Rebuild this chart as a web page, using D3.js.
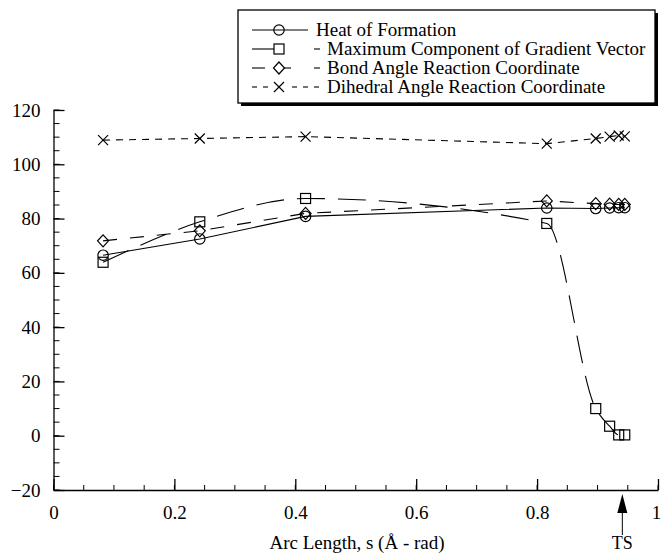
<!DOCTYPE html>
<html><head><meta charset="utf-8">
<script src="https://cdn.jsdelivr.net/npm/d3@7"></script>
<style>body{margin:0;background:#fff}svg{display:block}</style>
</head><body><svg id="c" width="661" height="553" font-family="Liberation Serif"></svg>
<script>
const arcLength = [0.082, 0.242, 0.417, 0.816, 0.897, 0.920, 0.935, 0.945];
const heatOfFormation = [66.5, 72.5, 80.8, 83.9, 83.7, 83.9, 84.0, 84.0];
const maxGradient = [63.9, 78.8, 87.4, 78.2, 10.0, 3.5, 0.3, 0.3];
const bondAngle = [71.8, 75.5, 81.9, 86.5, 85.5, 85.3, 85.2, 85.2];
const dihedralAngle = [108.9, 109.5, 110.2, 107.6, 109.5, 110.2, 110.6, 110.3];
const seriesNames = ["Heat of Formation", "Maximum Component of Gradient Vector", "Bond Angle Reaction Coordinate", "Dihedral Angle Reaction Coordinate"];
const yTicks = [-20, 0, 20, 40, 60, 80, 100, 120];
const xTicks = [0, 0.2, 0.4, 0.6, 0.8, 1];
const tsArc = 0.941;

const FONT = "Liberation Serif";
const svg = d3.select("#c");
const x = d3.scaleLinear().domain([0, 1]).range([53.5, 658]);
const y = d3.scaleLinear().domain([-20, 120]).range([490, 110]);

// minor ticks
const gMinor = svg.append("g");
d3.range(-20, 120.01, 5).forEach(v => {
  gMinor.append("line").attr("x1", x(0)).attr("x2", x(0) + 6).attr("y1", y(v)).attr("y2", y(v)).attr("stroke", "#000").attr("stroke-width", 1);
});
d3.range(0, 1.001, 0.05).forEach(v => {
  gMinor.append("line").attr("x1", x(v)).attr("x2", x(v)).attr("y1", y(-20)).attr("y2", y(-20) - 5).attr("stroke", "#000").attr("stroke-width", 1);
});

const yAxis = svg.append("g").attr("transform", `translate(${x(0)},0)`)
  .call(d3.axisLeft(y).tickValues(yTicks).tickFormat(d3.format("d")).tickSizeInner(-11).tickSizeOuter(0).tickPadding(13));
const xAxis = svg.append("g").attr("transform", `translate(0,${y(-20)})`)
  .call(d3.axisBottom(x).tickValues(xTicks).tickFormat(d => d === 0 || d === 1 ? String(d) : d.toFixed(1)).tickSizeInner(-11).tickSizeOuter(0).tickPadding(16));
[yAxis, xAxis].forEach(g => {
  g.attr("font-family", FONT).attr("font-size", 19);
  g.selectAll("path,line").attr("stroke", "#000").attr("stroke-width", 1.3);
  g.selectAll("text").attr("font-family", FONT).attr("font-size", 19).attr("fill", "#000");
});
xAxis.selectAll(".tick text").filter(d => d === 1).attr("dx", -2);

svg.append("text").attr("x", 357).attr("y", 549).attr("text-anchor", "middle").attr("font-family", FONT).attr("font-size", 19).text("Arc Length, s (Å - rad)");

// TS arrow
const tx = x(tsArc);
svg.append("path").attr("d", `M${tx},494 L${tx - 5},513 L${tx + 5},513 Z`).attr("fill", "#000");
svg.append("line").attr("x1", tx).attr("x2", tx).attr("y1", 510).attr("y2", 535).attr("stroke", "#000").attr("stroke-width", 1);
svg.append("text").attr("x", tx).attr("y", 549).attr("text-anchor", "middle").attr("font-family", FONT).attr("font-size", 18).text("TS");

// series
function pts(vals) { return arcLength.map((s, i) => [x(s), y(vals[i])]); }
const lineLin = d3.line();
const lineSmooth = d3.line().curve(d3.curveMonotoneX);
const series = [
  {vals: heatOfFormation, dash: null, marker: "circle", gen: lineLin},
  {vals: maxGradient, dash: "28,13", marker: "square", gen: lineSmooth},
  {vals: bondAngle, dash: "14,13", marker: "diamond", gen: lineLin},
  {vals: dihedralAngle, dash: "7,6", marker: "cross", gen: lineLin}
];
function drawMarker(g, type, cx, cy) {
  const st = m => m.attr("fill", "none").attr("stroke", "#000").attr("stroke-width", 1.2);
  if (type === "circle") st(g.append("circle").attr("cx", cx).attr("cy", cy).attr("r", 5.2));
  else if (type === "square") st(g.append("rect").attr("x", cx - 5).attr("y", cy - 5).attr("width", 10).attr("height", 10));
  else if (type === "diamond") st(g.append("path").attr("d", `M${cx},${cy - 6}L${cx + 5.5},${cy}L${cx},${cy + 6}L${cx - 5.5},${cy}Z`));
  else st(g.append("path").attr("d", `M${cx - 5},${cy - 5}L${cx + 5},${cy + 5}M${cx + 5},${cy - 5}L${cx - 5},${cy + 5}`));
}
series.forEach(s => {
  const p = pts(s.vals);
  const path = svg.append("path").attr("d", s.gen(p)).attr("fill", "none").attr("stroke", "#000").attr("stroke-width", 1.1);
  if (s.dash) path.attr("stroke-dasharray", s.dash);
  const g = svg.append("g");
  p.forEach(([cx, cy]) => drawMarker(g, s.marker, cx, cy));
});

// legend
const lg = svg.append("g");
lg.append("rect").attr("x", 241).attr("y", 13).attr("width", 417).attr("height", 93).attr("fill", "#000");
lg.append("rect").attr("x", 238).attr("y", 10).attr("width", 417).attr("height", 93).attr("fill", "#fff").attr("stroke", "#000").attr("stroke-width", 1.3);
const rowY = [30, 49, 68, 87];
const seg = (x1, x2, ly) => lg.append("line").attr("x1", x1).attr("x2", x2).attr("y1", ly).attr("y2", ly).attr("stroke", "#000").attr("stroke-width", 1.1);
series.forEach((s, i) => {
  const ly = rowY[i];
  if (i === 0) { seg(252, 308, ly); }
  else if (i === 1) { seg(252, 274, ly); seg(314, 320, ly); }
  else if (i === 2) { seg(252, 265, ly); seg(284, 291, ly); seg(314, 320, ly); }
  else { seg(252, 257, ly); seg(263, 268, ly); seg(292, 297, ly); seg(303, 308, ly); seg(314, 319, ly); }
  drawMarker(lg, s.marker, 279, ly);
  lg.append("text").attr("x", i === 0 ? 316 : 327).attr("y", ly + 6).attr("font-family", FONT).attr("font-size", 19).attr("fill", "#000").text(seriesNames[i]);
});
</script></body></html>
